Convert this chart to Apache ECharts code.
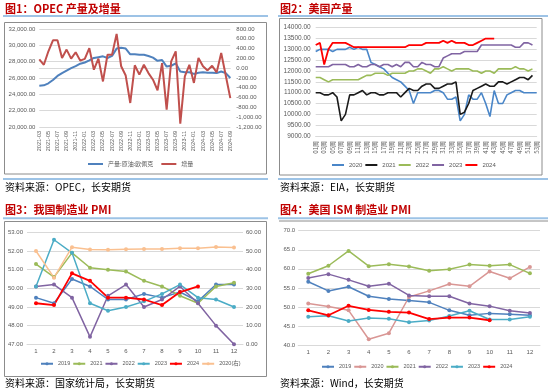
<!DOCTYPE html>
<html><head><meta charset="utf-8">
<script src="https://cdn.jsdelivr.net/npm/echarts@6/dist/echarts.min.js"></script>
<style>html,body{margin:0;padding:0;background:#fff}#c{width:550px;height:391px}</style>
</head><body><div id="c"></div><script>
// ---------- Chart 1: OPEC ----------
const opecMonths = ['2021-03','2021-04','2021-05','2021-06','2021-07','2021-08','2021-09','2021-10','2021-11','2021-12',
  '2022-01','2022-02','2022-03','2022-04','2022-05','2022-06','2022-07','2022-08','2022-09','2022-10','2022-11','2022-12',
  '2023-01','2023-02','2023-03','2023-04','2023-05','2023-06','2023-07','2023-08','2023-09','2023-10','2023-11','2023-12',
  '2024-01','2024-02','2024-03','2024-04','2024-05','2024-06','2024-07','2024-08','2024-09'];
const opecProduction = [25050,25100,25350,25750,26250,26600,26900,27200,27450,27750,27900,28150,28450,28550,28650,28450,28700,
  29600,29700,29600,28900,28900,28850,28850,28700,28500,28100,28200,27400,27500,27800,26800,26700,26700,26500,26650,26700,
  26650,26650,26600,26800,26600,26000];
const opecIncrement = [180,70,345,570,570,210,380,195,325,155,190,410,-30,195,-270,275,275,700,40,-150,-710,60,-130,70,-100,
  -235,-450,105,-845,140,345,-1130,-165,70,-300,210,40,-45,50,-85,310,-150,-610];

// ---------- Chart 2: US production (weekly) ----------
const weeks = ['01周','02周','03周','04周','05周','06周','07周','08周','09周','10周','11周','12周','13周','14周','15周','16周',
  '17周','18周','19周','20周','21周','22周','23周','24周','25周','26周','27周','28周','29周','30周','31周','32周','33周','34周',
  '35周','36周','37周','38周','39周','40周','41周','42周','43周','44周','45周','46周','47周','48周','49周','50周','51周','52周','53周'];
const us2020 = [12900,13000,13000,13000,12900,13000,13000,13000,13100,13000,13100,13000,13000,12400,12300,12200,12100,11900,
  11700,11600,11500,11300,11100,10500,11000,11000,11000,11000,11100,11100,11000,10700,10700,10800,9700,10000,10900,10700,10700,
  11000,10500,9900,11100,10500,10500,10900,11000,11100,11100,11000,11000,11000,11000];
const us2021 = [11000,11000,10900,10900,11000,10800,9700,10000,10900,10900,11000,11100,10900,11000,11000,10900,10900,11000,
  11000,11000,10800,11000,11200,11100,11100,11300,11400,11400,11200,11200,11300,11400,11400,11500,10000,10100,10500,11100,
  11200,11300,11400,11300,11300,11500,11500,11400,11500,11600,11700,11700,11600,11800];
const us2022 = [11700,11700,11600,11500,11600,11600,11600,11600,11600,11600,11600,11700,11800,11800,11900,11900,11900,11800,
  11900,11900,11900,11900,12000,12000,12100,12100,12000,11900,12100,12100,12200,12100,12000,12100,12100,12100,12100,12000,
  12000,11900,12000,12000,11900,12100,12100,12100,12100,12200,12100,12100,12000,12100];
const us2023 = [12200,12200,12200,12200,12300,12300,12300,12300,12200,12200,12300,12200,12200,12300,12300,12200,12300,12300,
  12200,12300,12200,12400,12400,12200,12200,12400,12300,12300,12200,12200,12600,12700,12800,12800,12800,12900,12900,12900,
  12900,13200,13200,13200,13200,13200,13200,13200,13200,13100,13100,13300,13300,13200];
const us2024 = [13200,13300,12300,13000,13300,13300,13300,13300,13200,13100,13100,13100,13100,13100,13100,13100,13100,13100,
  13100,13100,13100,13100,13200,13200,13200,13200,13300,13300,13300,13300,13400,13300,13400,13300,13300,13300,13200,13200,
  13300,13400,13500,13500,13500];

// ---------- Chart 3: China manufacturing PMI ----------
const months = ['1','2','3','4','5','6','7','8','9','10','11','12'];
const cn2019 = [49.5,49.2,50.5,50.1,49.4,49.4,49.7,49.5,49.8,49.3,50.2,50.2];
const cn2021 = [51.3,50.6,51.9,51.1,51.0,50.9,50.4,50.1,49.6,49.2,50.1,50.3];
const cn2022 = [50.1,50.2,49.5,47.4,49.6,50.2,49.0,49.4,50.1,49.2,48.0,47.0];
const cn2023 = [50.1,52.6,51.9,49.2,48.8,49.0,49.3,49.7,50.2,49.5,49.4,49.0];
const cn2024 = [49.2,49.1,50.8,50.4,49.5,49.5,49.4,49.1,49.8,50.1];
const cn2020 = [50.0,35.7,52.0,50.8,50.6,50.9,51.1,51.0,51.5,51.4,52.1,51.9];

// ---------- Chart 4: US ISM manufacturing PMI ----------
const ism2019 = [56.6,54.2,55.3,52.8,52.1,51.7,51.2,49.1,47.8,48.3,48.1,47.8];
const ism2020 = [50.9,50.1,49.1,41.5,43.1,52.6,54.2,56.0,55.4,59.3,57.5,60.5];
const ism2021 = [58.7,60.8,64.7,60.7,61.2,60.6,59.5,59.9,61.1,60.8,61.1,58.8];
const ism2022 = [57.6,58.6,57.1,55.4,56.1,53.0,52.8,52.8,50.9,50.2,49.0,48.4];
const ism2023 = [47.4,47.7,46.3,47.1,46.9,46.0,46.4,47.6,49.0,46.7,46.7,47.4];
const ism2024 = [49.1,47.8,50.3,49.2,48.7,48.5,46.8,47.2,47.2,46.5];

const FONT = '"Liberation Sans","Noto Sans CJK SC",sans-serif';
const CJK = '"Noto Sans CJK SC",sans-serif';
const LBL = '#595959';
const GRIDC = '#d9d9d9';
const TITLEC = '#c00000';
const RULE = '#9dc3e6';
const BOX = '#8c8c8c';

const c = {blue:'#4f81bd', red:'#c0504d', green:'#9bbb59', purple:'#8064a2', teal:'#4bacc6', orange:'#fac090', pink:'#d99694', bright:'#ff0000', black:'#1a1a1a', blue2:'#4a86c8'};

const strip = n => n.split('|')[0];
const fmtComma = v => v.toLocaleString('en-US',{minimumFractionDigits:2, maximumFractionDigits:2});

function yAx(grid, min, max, interval, fmt, opts) {
  return Object.assign({
    type:'value', gridIndex:grid, min, max, interval,
    axisLine:{show:false}, axisTick:{show:false},
    splitLine:{show:true, lineStyle:{color:GRIDC, width:1}},
    axisLabel:{color:LBL, fontSize:6, fontFamily:FONT, formatter:fmt, margin:4}
  }, opts||{});
}
function xCat(grid, data, opts, labelOpts) {
  return Object.assign({
    type:'category', gridIndex:grid, data,
    axisLine:{show:true, lineStyle:{color:GRIDC}}, axisTick:{show:false},
    axisLabel:Object.assign({color:LBL, fontSize:6, fontFamily:FONT, margin:4}, labelOpts||{})
  }, opts||{});
}
function lineS(name, x, y, data, color, width, marker) {
  return {
    type:'line', name, xAxisIndex:x, yAxisIndex:y, data,
    symbol: marker ? 'circle' : 'none', symbolSize: marker ? 4 : 0, showSymbol: !!marker,
    lineStyle:{color, width}, itemStyle:{color}, silent:true, animation:false
  };
}

const option = {
  animation:false,
  grid:[
    {left:39.3, top:29, width:191, height:98},
    {left:315.7, top:27.7, width:221, height:108.3},
    {left:27, top:232.3, width:216, height:112},
    {left:298.2, top:230.7, width:241.8, height:114.3}
  ],
  xAxis:[
    xCat(0, opecMonths, {boundaryGap:false}, {rotate:90, interval:1, fontSize:5.5, margin:4}),
    xCat(1, weeks, {boundaryGap:false}, {rotate:90, interval:1, fontSize:6, margin:5, fontFamily:CJK}),
    xCat(2, months, {boundaryGap:true}),
    xCat(3, months, {boundaryGap:true})
  ],
  yAxis:[
    yAx(0, 20000, 32000, 2000, fmtComma),
    yAx(0, -1200, 800, 200, fmtComma, {position:'right', splitLine:{show:false},
      axisLabel:{color:LBL, fontSize:6, fontFamily:FONT, formatter:fmtComma, margin:6}}),
    yAx(1, 9000, 14000, 500, v => v.toFixed(2), {axisLabel:{color:LBL, fontSize:6.5, fontFamily:FONT, formatter:v=>v.toFixed(2), margin:5}}),
    yAx(2, 47, 53, 1, v => v.toFixed(2)),
    yAx(2, 0, 60, 10, v => v.toFixed(2), {position:'right', splitLine:{show:false},
      axisLabel:{color:LBL, fontSize:6, fontFamily:FONT, formatter:v=>v.toFixed(2), margin:3}}),
    yAx(3, 40, 70, 5, v => v.toFixed(1), {axisLabel:{color:LBL, fontSize:6, fontFamily:FONT, formatter:v=>v.toFixed(1), margin:3}})
  ],
  legend:[
    {data:['产量:原油:欧佩克','增量'], left:88, top:161, width:200, padding:0, icon:'rect', itemWidth:15, itemHeight:2, itemGap:8,
      textStyle:{color:LBL, fontSize:6, fontFamily:CJK}, selectedMode:false},
    {data:['2020|a','2021|a','2022|a','2023|a','2024|a'], left:332, top:162, width:210, padding:0, icon:'rect', itemWidth:12, itemHeight:2, itemGap:3,
      formatter:strip, textStyle:{color:LBL, fontSize:6, fontFamily:FONT}, selectedMode:false},
    {data:['2019|b','2021|b','2022|b','2023|b','2024|b','2020(右)|b'], left:40, top:361, width:220, padding:0, itemWidth:12, itemHeight:4, itemGap:2,
      formatter:strip, textStyle:{color:LBL, fontSize:5.5, fontFamily:FONT}, selectedMode:false},
    {data:['2019|c','2020|c','2021|c','2022|c','2023|c','2024|c'], left:321, top:364, width:220, padding:0, itemWidth:12, itemHeight:4, itemGap:2,
      formatter:strip, textStyle:{color:LBL, fontSize:5.5, fontFamily:FONT}, selectedMode:false}
  ],
  series:[
    lineS('产量:原油:欧佩克', 0, 0, opecProduction, c.blue, 2),
    lineS('增量', 0, 1, opecIncrement, c.red, 2),
    lineS('2020|a', 1, 2, us2020, c.blue2, 1.6),
    lineS('2021|a', 1, 2, us2021, c.black, 1.6),
    lineS('2022|a', 1, 2, us2022, c.green, 1.6),
    lineS('2023|a', 1, 2, us2023, c.purple, 1.6),
    lineS('2024|a', 1, 2, us2024, c.bright, 1.8),
    lineS('2019|b', 2, 3, cn2019, c.blue, 1.5, true),
    lineS('2021|b', 2, 3, cn2021, c.green, 1.5, true),
    lineS('2022|b', 2, 3, cn2022, c.purple, 1.5, true),
    lineS('2023|b', 2, 3, cn2023, c.teal, 1.5, true),
    lineS('2020(右)|b', 2, 4, cn2020, c.orange, 1.5, true),
    lineS('2024|b', 2, 3, cn2024, c.bright, 1.8, true),
    lineS('2019|c', 3, 5, ism2019, c.blue, 1.5, true),
    lineS('2020|c', 3, 5, ism2020, c.pink, 1.5, true),
    lineS('2021|c', 3, 5, ism2021, c.green, 1.5, true),
    lineS('2022|c', 3, 5, ism2022, c.purple, 1.5, true),
    lineS('2023|c', 3, 5, ism2023, c.teal, 1.5, true),
    lineS('2024|c', 3, 5, ism2024, c.bright, 1.8, true)
  ],
  graphic:[
    {type:'text', x:5, y:8.5, style:{text:'图1：OPEC 产量及增量', font:'bold 11px '+CJK, fill:TITLEC, verticalAlign:'middle'}},
    {type:'text', x:280, y:8.5, style:{text:'图2：美国产量', font:'bold 11px '+CJK, fill:TITLEC, verticalAlign:'middle'}},
    {type:'text', x:5, y:209.5, style:{text:'图3：我国制造业 PMI', font:'bold 11px '+CJK, fill:TITLEC, verticalAlign:'middle'}},
    {type:'text', x:280, y:209.5, style:{text:'图4：美国 ISM 制造业 PMI', font:'bold 11px '+CJK, fill:TITLEC, verticalAlign:'middle'}},
    {type:'line', shape:{x1:3, y1:16, x2:268, y2:16}, style:{stroke:RULE, lineWidth:2}},
    {type:'line', shape:{x1:278, y1:16, x2:548, y2:16}, style:{stroke:RULE, lineWidth:2}},
    {type:'line', shape:{x1:3, y1:218.3, x2:268, y2:218.3}, style:{stroke:RULE, lineWidth:2}},
    {type:'line', shape:{x1:278, y1:218.3, x2:548, y2:218.3}, style:{stroke:RULE, lineWidth:2}},
    {type:'line', shape:{x1:3, y1:179, x2:268, y2:179}, style:{stroke:RULE, lineWidth:2}},
    {type:'line', shape:{x1:278, y1:179, x2:548, y2:179}, style:{stroke:RULE, lineWidth:2}},
    {type:'rect', shape:{x:4.5, y:22.5, width:262, height:151.5}, style:{fill:'none', stroke:BOX, lineWidth:1}},
    {type:'rect', shape:{x:279.5, y:18.5, width:262.5, height:156.5}, style:{fill:'none', stroke:BOX, lineWidth:1}},
    {type:'rect', shape:{x:4.5, y:221.5, width:262, height:155}, style:{fill:'none', stroke:BOX, lineWidth:1}},
    {type:'line', shape:{x1:279, y1:221, x2:548, y2:221}, style:{stroke:BOX, lineWidth:1}},
    {type:'text', x:5, y:187.5, style:{text:'资料来源：OPEC，长安期货', font:'10px '+CJK, fill:'#000', verticalAlign:'middle'}},
    {type:'text', x:280, y:187.5, style:{text:'资料来源：EIA，长安期货', font:'10px '+CJK, fill:'#000', verticalAlign:'middle'}},
    {type:'text', x:5, y:383.5, style:{text:'资料来源：国家统计局，长安期货', font:'10px '+CJK, fill:'#000', verticalAlign:'middle'}},
    {type:'text', x:280, y:383.5, style:{text:'资料来源：Wind，长安期货', font:'10px '+CJK, fill:'#000', verticalAlign:'middle'}}
  ]
};
const chart = echarts.init(document.getElementById('c'));
chart.setOption(option);
</script></body></html>
